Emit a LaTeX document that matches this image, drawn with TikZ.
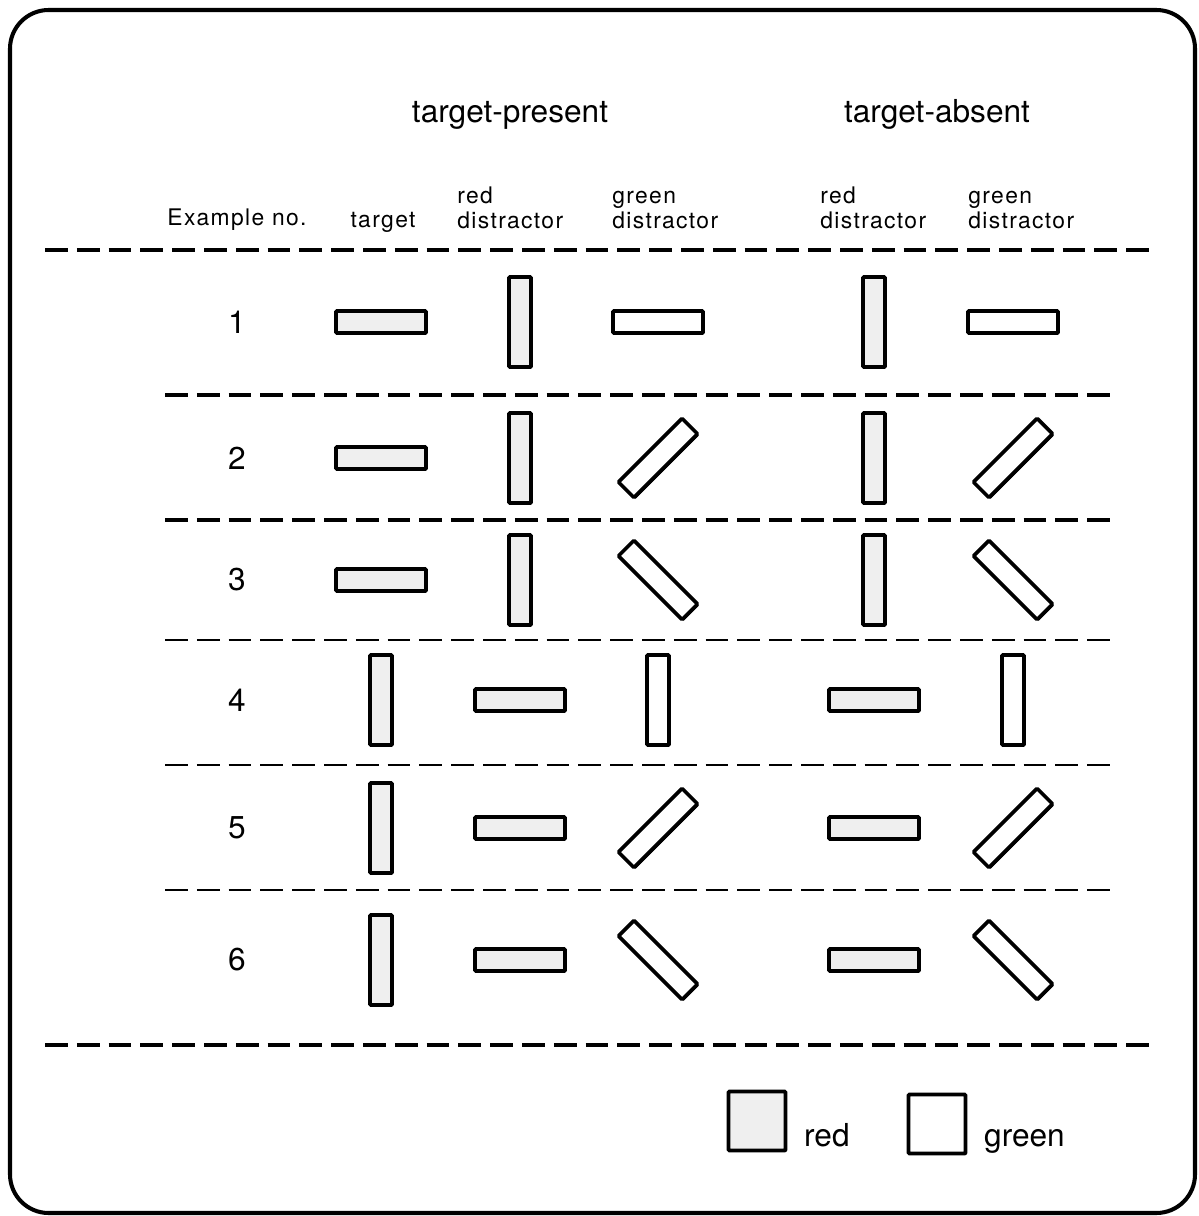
\documentclass[tikz,border=0pt]{standalone}
\usepackage{fontspec}
\setmainfont{TeX Gyre Heros}
\newfontfamily\colfont[LetterSpace=6]{TeX Gyre Heros}
\usepackage{tikz}
\usetikzlibrary{positioning,shadows}
\definecolor{barfill}{HTML}{EFEFEF}
\tikzset{
  bar/.style={draw,line width=2.1pt,inner sep=0pt,rounded corners=0.6pt,
    minimum width=1.8cm,minimum height=0.44cm,
    drop shadow={shadow xshift=0.8pt,shadow yshift=-0.8pt,fill=black,opacity=1}},
  redbar/.style={bar,fill=barfill},
  greenbar/.style={bar,fill=white},
  sepline/.style={dash pattern=on 13pt off 5.1pt},
  hdr/.style={font=\fontsize{18}{20}\selectfont},
  colhdr/.style={font=\colfont\fontsize{13}{14}\selectfont,align=left,inner sep=0pt},
  rownum/.style={font=\fontsize{18}{20}\selectfont}
}
\begin{document}
\begin{tikzpicture}[x=0.02cm,y=-0.02cm,line cap=butt]
  \useasboundingbox (0,0) rectangle (1198,1216);
  \draw[line width=2.3pt,rounded corners=22pt] (10,10) rectangle (1195,1213);
  % headings
  \node[hdr,anchor=base] (tp) at (510,123) {target-present};
  \node[hdr,anchor=base] (ta) at (937,123) {target-absent};
  \node[colhdr,anchor=base] (exno) at (237,226) {Example no.};
  \node[colhdr,anchor=base] (tgt) at (383,228) {target};
  \node[colhdr,anchor=south west] (rdp) at (457,229) {red\\distractor};
  \node[colhdr,anchor=south west] (gdp) at (612,229) {green\\distractor};
  \node[colhdr,anchor=south west] (rda) at (820,229) {red\\distractor};
  \node[colhdr,anchor=south west] (gda) at (968,229) {green\\distractor};
  % separators
  \foreach \y/\w/\l/\r in {250/2.8pt/45/1155, 395/2.8pt/165/1110, 520/2.8pt/165/1110,
      640/1.5pt/165/1110, 765/1.5pt/165/1110, 890/1.5pt/165/1110, 1045/2.2pt/45/1155}
    \draw[sepline,line width=\w] (\l,\y) -- (\r,\y);
  % rows: number, then bar angles for the five columns
  \foreach \r/\y/\a/\b/\c/\d/\e in {1/322/0/90/0/90/0, 2/458/0/90/45/90/45,
      3/580/0/90/-45/90/-45, 4/700/90/0/90/0/90, 5/828/90/0/45/0/45, 6/960/90/0/-45/0/-45}{
    \node[rownum] (n\r) at (237,\y) {\r};
    \node[redbar,rotate=\a] (t\r) at (381,\y) {};
    \node[redbar,rotate=\b] (rp\r) at (520,\y) {};
    \node[greenbar,rotate=\c] (gp\r) at (658,\y) {};
    \node[redbar,rotate=\d] (ra\r) at (874,\y) {};
    \node[greenbar,rotate=\e] (ga\r) at (1013,\y) {};
  }
  % legend
  \node[redbar,minimum width=1.14cm,minimum height=1.18cm] (lred) at (757,1121) {};
  \node[hdr,anchor=base west] (lredtxt) at (798,1146) {red};
  \node[greenbar,minimum width=1.14cm,minimum height=1.18cm] (lgreen) at (937,1124) {};
  \node[hdr,anchor=base west] (lgreentxt) at (978,1146) {green};
\end{tikzpicture}
\end{document}
